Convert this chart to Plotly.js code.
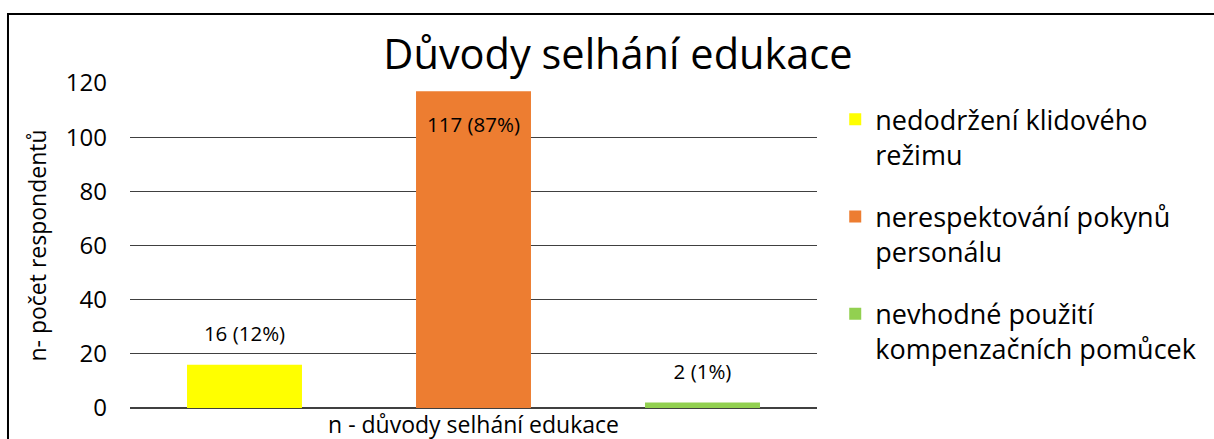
<!DOCTYPE html>
<html>
<head>
<meta charset="utf-8">
<script src="https://cdn.plot.ly/plotly-3.0.1.min.js"></script>
<style>html,body{margin:0;padding:0;background:#fff;}#chart{width:1214px;height:439px;}</style>
</head>
<body>
<div id="chart"></div>
<script>
const category = "n - důvody selhání edukace";
const seriesNames = ["nedodržení klidového<br>režimu", "nerespektování pokynů<br>personálu", "nevhodné použití<br>kompenzačních pomůcek"];
const seriesValues = [16, 117, 2];
const seriesPercents = [12, 87, 1];
const seriesColors = ["#FFFF00", "#ED7D31", "#92D050"];
const yTicks = [0, 20, 40, 60, 80, 100, 120];

const FONT = "Open Sans, Noto Sans, sans-serif";

const traces = seriesNames.map((name, i) => {
  const label = "<span style='font-size:20.5px'>" + seriesValues[i] + " (" + seriesPercents[i] + "%)</span>";
  const inside = i === 1;
  return {
    type: "bar",
    name: name,
    legendgroup: "g" + i,
    x: [category],
    y: [seriesValues[i]],
    text: [inside ? " <br>" + label : label + "<br> "],
    textposition: inside ? "inside" : "outside",
    insidetextanchor: "end",
    constraintext: "none",
    textfont: {family: FONT, size: inside ? 16 : 13, color: "#000"},
    marker: {color: seriesColors[i]},
    cliponaxis: false,
    hoverinfo: "none"
  };
});

const layout = {
  width: 1214, height: 439,
  margin: {l: 130, r: 397, t: 83, b: 31, pad: 0},
  paper_bgcolor: "#fff", plot_bgcolor: "#fff",
  font: {family: FONT, color: "#000"},
  barmode: "group",
  bargap: 0,
  bargroupgap: 0.498,
  title: {text: "Důvody selhání edukace", font: {family: FONT, size: 41.5, color: "#000"},
          x: 0.509, xref: "container", xanchor: "center", y: 0.875, yref: "container", yanchor: "middle"},
  xaxis: {type: "category", showgrid: false, showline: false, zeroline: false, ticks: "",
          tickfont: {family: FONT, size: 23}, ticklabelstandoff: 1, fixedrange: true},
  yaxis: {range: [0, 120], tickvals: yTicks, ticktext: yTicks.map(String), showgrid: true,
          gridcolor: "#404040", gridwidth: 1.3, zeroline: true, zerolinecolor: "#404040", zerolinewidth: 1.3,
          showline: false, ticks: "", ticklen: 0, tickfont: {family: FONT, size: 24}, ticklabelstandoff: 22,
          title: {text: "n- počet respondentů", font: {family: FONT, size: 23}, standoff: 12}},
  legend: {x: 0.688, xref: "container", xanchor: "left", y: 0.783, yref: "container", yanchor: "top",
           valign: "top", font: {family: FONT, size: 27}, tracegroupgap: 24, itemclick: false,
           maxheight: 1, bgcolor: "rgba(0,0,0,0)"},
  showlegend: true,
  shapes: [{type: "rect", xref: "paper", yref: "paper", x0: -0.1776, x1: 1.8, y0: -0.3, y1: 1.2123,
            line: {color: "#000", width: 2}, fillcolor: "rgba(0,0,0,0)", layer: "below"}]
};

Plotly.newPlot("chart", traces, layout, {displayModeBar: false, staticPlot: true});
</script>
</body>
</html>
